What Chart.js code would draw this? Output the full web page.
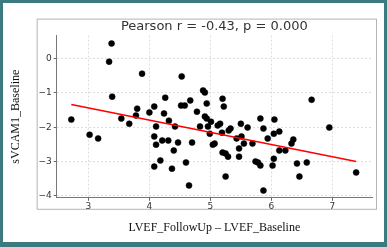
<!DOCTYPE html>
<html>
<head>
<meta charset="utf-8">
<script src="https://cdn.jsdelivr.net/npm/chart.js"></script>
<style>
  html, body { margin: 0; padding: 0; background: #3b7b80; }
  #wrap { position: absolute; left: 3px; top: 3px; width: 381px; height: 239px; background: #fff; }
</style>
</head>
<body>
<div id="wrap"><canvas id="scatterChart"></canvas></div>
<script>
// values
const lvefDiff = [2.72, 3.02, 3.16, 3.34, 3.38, 3.39, 3.54, 3.67, 3.80, 3.78,
  3.88, 4.00, 4.08, 4.11, 4.08, 4.11, 4.08, 4.18, 4.21, 4.26,
  4.24, 4.31, 4.32, 4.40, 4.42, 4.47, 4.37, 4.53, 4.52, 4.58,
  4.60, 4.65, 4.67, 4.70, 4.78, 4.83, 4.88, 4.91, 4.94, 4.91,
  4.94, 4.96, 5.01, 4.99, 5.04, 5.07, 5.12, 5.16, 5.19, 5.20,
  5.22, 5.20, 5.25, 5.29, 5.25, 5.30, 5.33, 5.43, 5.47, 5.47,
  5.50, 5.51, 5.55, 5.61, 5.69, 5.74, 5.78, 5.82, 5.82, 5.87,
  5.87, 5.94, 6.05, 6.04, 6.13, 6.04, 6.02, 6.13, 6.23, 6.33,
  6.36, 6.42, 6.46, 6.58, 6.66, 6.95, 7.39];
const svcam1 = [-1.78, -2.22, -2.33, -0.09, 0.44, -1.11, -1.75, -1.90, -1.46, -1.66,
  -0.44, -1.57, -1.40, -1.98, -2.27, -2.51, -3.15, -2.97, -2.39, -1.14,
  -1.60, -2.39, -1.81, -2.68, -1.98, -2.45, -3.21, -0.52, -1.37, -1.37,
  -3.03, -3.70, -1.22, -2.45, -1.55, -1.98, -0.93, -0.99, -1.31, -1.69,
  -1.75, -1.98, -1.84, -2.19, -2.51, -2.48, -1.95, -1.90, -2.16, -1.17,
  -1.40, -2.74, -2.77, -2.86, -3.44, -2.10, -2.04, -2.33, -2.62, -2.86,
  -1.90, -2.27, -2.48, -2.01, -2.48, -3.00, -3.03, -1.75, -3.12, -2.04,
  -3.85, -2.33, -1.78, -2.19, -2.13, -2.92, -3.12, -2.68, -2.68, -2.48,
  -2.36, -3.06, -3.44, -3.03, -1.20, -2.01, -3.32];

// regression line end points
const fitX = [2.72, 7.39];
const fitY = [-1.34, -3.00];

const xTicks = [3, 4, 5, 6, 7];
const yTicks = [0, -1, -2, -3, -4];

const chartTitle = 'Pearson r = -0.43, p = 0.000';
const xTitle = 'LVEF_FollowUp \u2013 LVEF_Baseline';
const yTitle = 'sVCAM1_Baseline';

const points = lvefDiff.map((x, i) => ({ x: x, y: svcam1[i] }));
const fitLine = fitX.map((x, i) => ({ x: x, y: fitY[i] }));

// grey box around plot, like the matplotlib figure frame
const framePlugin = {
  id: 'frame',
  beforeDraw(chart) {
    const { ctx, chartArea } = chart;
    ctx.save();
    ctx.strokeStyle = '#b5b5b5';
    ctx.lineWidth = 1;
    ctx.strokeRect(chartArea.left - 19.5, chartArea.top - 16.5,
      chartArea.right - chartArea.left + 24, chartArea.bottom - chartArea.top + 28);
    ctx.restore();
  }
};

const minusFmt = v => v < 0 ? '\u2212' + Math.abs(v) : String(v);

const ctx = document.getElementById('scatterChart').getContext('2d');
new Chart(ctx, {
  type: 'scatter',
  data: {
    datasets: [
      {
        label: 'fit',
        data: fitLine,
        showLine: true,
        borderColor: '#ff0000',
        borderWidth: 1.5,
        pointRadius: 0,
        fill: false
      },
      {
        label: 'points',
        data: points,
        backgroundColor: '#000',
        borderColor: '#000',
        borderWidth: 0.5,
        pointRadius: 3
      }
    ]
  },
  options: {
    responsive: true,
    maintainAspectRatio: false,
    animation: false,
    devicePixelRatio: 1,
    layout: { padding: { left: 3, right: 12, top: 0, bottom: 7 } },
    plugins: {
      legend: { display: false },
      tooltip: { enabled: false },
      title: {
        display: true,
        text: chartTitle,
        fullSize: false,
        color: '#333',
        font: { family: 'DejaVu Sans', size: 13, weight: 'normal' },
        padding: { top: 16, bottom: 1 }
      }
    },
    scales: {
      x: {
        type: 'linear',
        min: 2.48,
        max: 7.65,
        afterBuildTicks: axis => { axis.ticks = xTicks.map(v => ({ value: v })); },
        ticks: {
          color: '#333',
          font: { family: 'DejaVu Sans', size: 9 },
          padding: 0,
          callback: minusFmt
        },
        grid: { color: '#dedede', tickColor: '#666', tickLength: 3 },
        border: { color: '#777', dash: [2, 2] },
        title: {
          display: true,
          text: xTitle,
          color: '#111',
          font: { family: 'Liberation Serif', size: 12 },
          padding: { top: 9, bottom: 0 }
        }
      },
      y: {
        type: 'linear',
        min: -4.06,
        max: 0.67,
        afterBuildTicks: axis => { axis.ticks = yTicks.map(v => ({ value: v })); },
        ticks: {
          color: '#333',
          font: { family: 'DejaVu Sans', size: 9 },
          padding: 2,
          callback: minusFmt
        },
        grid: { color: '#dedede', tickColor: '#666', tickLength: 3 },
        border: { color: '#777', dash: [2, 2] },
        title: {
          display: true,
          text: yTitle,
          color: '#111',
          font: { family: 'Liberation Serif', size: 12 },
          padding: { top: 3, bottom: 13 }
        }
      }
    }
  },
  plugins: [framePlugin]
});
</script>
</body>
</html>
